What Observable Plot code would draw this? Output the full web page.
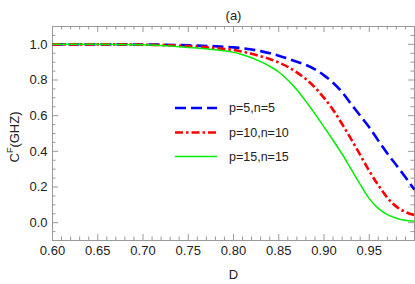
<!DOCTYPE html>
<html>
<head>
<meta charset="utf-8">
<script src="https://cdn.jsdelivr.net/npm/d3@7"></script>
<script src="https://cdn.jsdelivr.net/npm/@observablehq/plot@0.6"></script>
<style>
  html, body { margin: 0; padding: 0; background: #fff; }
  #chart { width: 415px; height: 284px; }
</style>
</head>
<body>
<div id="chart"></div>
<script>
// ---- data ----
const D = [0.60, 0.65, 0.70, 0.72, 0.74, 0.76, 0.78,
           0.80, 0.81, 0.82, 0.83, 0.84, 0.85, 0.86, 0.87, 0.88, 0.89, 0.90,
           0.91, 0.92, 0.93, 0.94, 0.95, 0.96, 0.97, 0.98, 0.99, 1.00];
const cP5  = [1.000, 1.000, 0.999, 0.998, 0.996, 0.993, 0.989,
              0.983, 0.978, 0.971, 0.962, 0.950, 0.936, 0.920, 0.902, 0.884, 0.860, 0.826,
              0.785, 0.732, 0.665, 0.600, 0.535, 0.460, 0.388, 0.322, 0.255, 0.185];
const cP10 = [1.000, 1.000, 0.998, 0.996, 0.992, 0.987, 0.979,
              0.968, 0.959, 0.947, 0.933, 0.918, 0.898, 0.874, 0.843, 0.805, 0.758, 0.700,
              0.633, 0.553, 0.468, 0.380, 0.290, 0.210, 0.140, 0.090, 0.060, 0.042];
const cP15 = [1.000, 1.000, 0.997, 0.993, 0.987, 0.979, 0.969,
              0.955, 0.942, 0.925, 0.903, 0.877, 0.845, 0.800, 0.745, 0.680, 0.610, 0.537,
              0.462, 0.385, 0.300, 0.215, 0.135, 0.080, 0.045, 0.025, 0.013, 0.008];
const seriesNames = ["p=5,n=5", "p=10,n=10", "p=15,n=15"];
const xTicks = [0.60, 0.65, 0.70, 0.75, 0.80, 0.85, 0.90, 0.95];
const yTicks = [0.0, 0.2, 0.4, 0.6, 0.8, 1.0];
const xMinor = d3.range(60, 100).map(v => v / 100).filter(v => !xTicks.some(t => Math.abs(t - v) < 1e-9));
const yMinor = d3.range(-2, 23).map(v => v * 0.05).filter(v => !yTicks.some(t => Math.abs(t - v) < 1e-9));
const titleText = "(a)";
const xLabel = "D";

// ---- styles ----
const styles = [
  {stroke: "#0000ff", width: 2.6, dash: "11,5"},
  {stroke: "#ff0000", width: 2.6, dash: "8,3,2.5,3"},
  {stroke: "#00ee00", width: 1.5, dash: null}
];
const allSeries = [cP5, cP10, cP15];
const rows = [];
allSeries.forEach((vals, i) => D.forEach((d, j) => rows.push({D: d, C: vals[j], s: seriesNames[i]})));

const W = 415, H = 284, mT = 26, mB = 44, mL = 52, mR = 1;
const innerH = H - mT - mB, innerW = W - mL - mR;
const major = 6, minor = 3.5, tickColor = "#999";

const marks = [
  Plot.frame({stroke: tickColor}),
  Plot.tickX(xTicks, {x: d => d, insetTop: innerH - major, stroke: tickColor}),
  Plot.tickX(xTicks, {x: d => d, insetBottom: innerH - major, stroke: tickColor}),
  Plot.tickX(xMinor, {x: d => d, insetTop: innerH - minor, stroke: tickColor}),
  Plot.tickX(xMinor, {x: d => d, insetBottom: innerH - minor, stroke: tickColor}),
  Plot.tickY(yTicks, {y: d => d, insetRight: innerW - major, stroke: tickColor}),
  Plot.tickY(yTicks, {y: d => d, insetLeft: innerW - major, stroke: tickColor}),
  Plot.tickY(yMinor, {y: d => d, insetRight: innerW - minor, stroke: tickColor}),
  Plot.tickY(yMinor, {y: d => d, insetLeft: innerW - minor, stroke: tickColor}),
  Plot.axisX(xTicks, {tickSize: 0, tickPadding: 5, tickFormat: d3.format(".2f"), label: null, fontSize: 13, fill: "#222"}),
  Plot.axisY(yTicks, {tickSize: 0, tickPadding: 5, tickFormat: d3.format(".1f"), label: null, fontSize: 13, fill: "#222"}),
];
seriesNames.forEach((name, i) => {
  const st = styles[i];
  marks.push(Plot.line(rows.filter(r => r.s === name), {
    x: "D", y: "C", stroke: st.stroke, strokeWidth: st.width,
    strokeDasharray: st.dash, curve: "monotone-x", strokeLinecap: "butt"
  }));
});
marks.push(Plot.text([titleText], {frameAnchor: "top", dy: -16, fontSize: 13, fill: "#222"}));
marks.push(Plot.text([xLabel], {frameAnchor: "bottom", dy: 38, fontSize: 13, fill: "#222"}));

const chart = Plot.plot({
  width: W, height: H,
  marginTop: mT, marginBottom: mB, marginLeft: mL, marginRight: mR,
  style: {fontFamily: "'Liberation Sans', Arial, sans-serif", fontSize: "13px", background: "#fff"},
  x: {domain: [0.6, 1.0]},
  y: {domain: [-0.1, 1.1]},
  marks
});
document.getElementById("chart").appendChild(chart);

const svg = d3.select(chart.tagName.toLowerCase() === "svg" ? chart : chart.querySelector("svg"));
// y-axis label with superscript
const yl = svg.append("text")
  .attr("transform", "translate(16,137) rotate(-90)")
  .attr("text-anchor", "middle")
  .attr("dominant-baseline", "middle")
  .attr("font-size", 13)
  .attr("fill", "#222");
yl.append("tspan").text("C");
yl.append("tspan").attr("font-size", 9).attr("dy", -5).text("F");
yl.append("tspan").attr("dy", 5).text("(GHZ)");

// legend
const lg = svg.append("g");
const legY = [108, 132.5, 156.5];
seriesNames.forEach((name, i) => {
  const st = styles[i];
  lg.append("line").attr("x1", 175).attr("x2", 217).attr("y1", legY[i]).attr("y2", legY[i])
    .attr("stroke", st.stroke).attr("stroke-width", st.width)
    .attr("stroke-dasharray", st.dash).attr("stroke-linecap", "butt");
  lg.append("text").attr("x", 229).attr("y", legY[i]).attr("dy", "0.35em")
    .attr("text-anchor", "start")
    .attr("font-size", 12.5).attr("fill", "#222").text(name);
});
</script>
</body>
</html>
